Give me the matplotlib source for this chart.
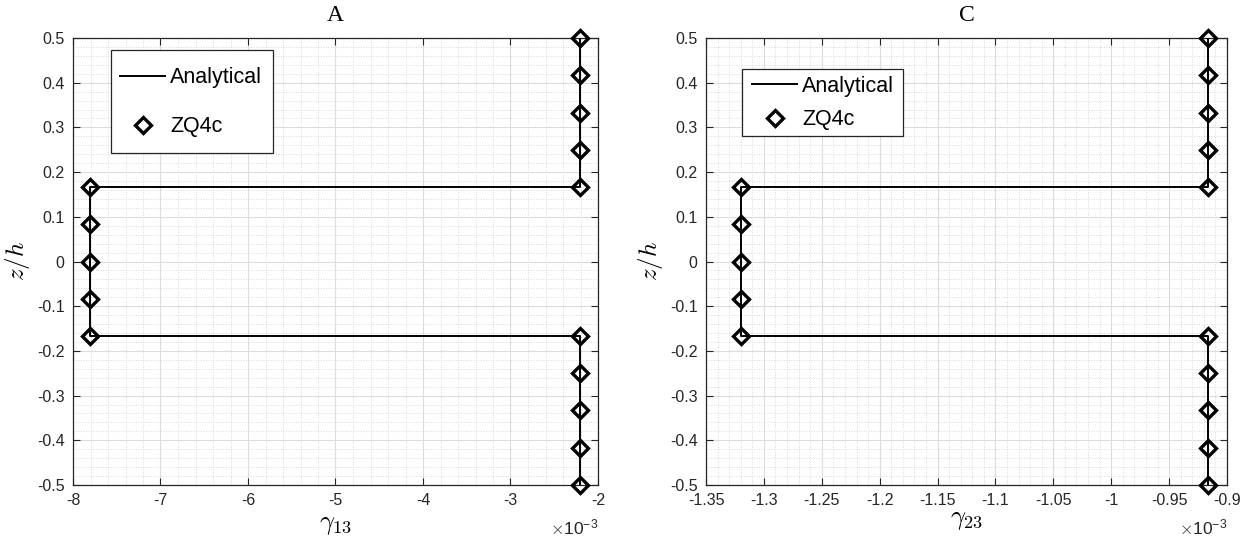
import matplotlib
matplotlib.use("Agg")
import matplotlib.pyplot as plt
from matplotlib.patches import Rectangle
from matplotlib.ticker import MultipleLocator, FuncFormatter, AutoMinorLocator

# ---------------- data ----------------
z_analytical = [0.5, 0.16667, 0.16667, -0.16667, -0.16667, -0.5]
gamma13_analytical = [-2.21e-3, -2.21e-3, -7.81e-3, -7.81e-3, -2.21e-3, -2.21e-3]
gamma23_analytical = [-0.9164e-3, -0.9164e-3, -1.3198e-3, -1.3198e-3, -0.9164e-3, -0.9164e-3]

z_zq4c = [0.5, 0.41667, 0.33333, 0.25, 0.16667,
          0.16667, 0.08333, 0.0, -0.08333, -0.16667,
          -0.16667, -0.25, -0.33333, -0.41667, -0.5]
gamma13_zq4c = [-2.21e-3, -2.21e-3, -2.21e-3, -2.21e-3, -2.21e-3,
                -7.81e-3, -7.81e-3, -7.81e-3, -7.81e-3, -7.81e-3,
                -2.21e-3, -2.21e-3, -2.21e-3, -2.21e-3, -2.21e-3]
gamma23_zq4c = [-0.9164e-3, -0.9164e-3, -0.9164e-3, -0.9164e-3, -0.9164e-3,
                -1.3198e-3, -1.3198e-3, -1.3198e-3, -1.3198e-3, -1.3198e-3,
                -0.9164e-3, -0.9164e-3, -0.9164e-3, -0.9164e-3, -0.9164e-3]

titles = ["A", "C"]
xlabels = [r"$\gamma_{13}$", r"$\gamma_{23}$"]
ylabel = r"$z/h$"
legend_labels = ["Analytical", "ZQ4c"]
xlims = [(-8e-3, -2e-3), (-1.35e-3, -0.9e-3)]
xmajor = [1e-3, 0.05e-3]
yticks = [-0.5, -0.4, -0.3, -0.2, -0.1, 0, 0.1, 0.2, 0.3, 0.4, 0.5]

# ---------------- style ----------------
plt.rcParams['font.family'] = ['Liberation Sans', 'DejaVu Sans']
plt.rcParams['mathtext.fontset'] = 'cm'
plt.rcParams['axes.unicode_minus'] = False

W, H = 1251, 544
fig = plt.figure(figsize=(W / 100, H / 100), dpi=100)

axes_px = [(73, 598), (706, 1227)]
top_px, bot_px = 38, 485

tickcol = '#262626'
LEG_FS = 15.5
# legend layout in pixels: frame (x0, y0, x1, y1), handle start x, first-row centre y, row spacing
legend_px = [
    dict(frame=(111, 50, 273, 153), hx=120, row1=78, labelspacing=1.3),
    dict(frame=(742, 69, 903, 136), hx=752, row1=86.5, labelspacing=0.56),
]
xlabel_y = [-0.062, -0.052]

series_a = [gamma13_analytical, gamma23_analytical]
series_z = [gamma13_zq4c, gamma23_zq4c]

for i in range(2):
    x0, x1 = axes_px[i]
    aw, ah = x1 - x0, bot_px - top_px
    ax = fig.add_axes([x0 / W, 1 - bot_px / H, aw / W, ah / H])

    def to_ax(px, py):
        return (px - x0) / aw, (bot_px - py) / ah

    ax.plot(series_a[i], z_analytical, color='black', lw=1.4, label=legend_labels[0], zorder=3)
    ax.plot(series_z[i], z_zq4c, linestyle='none', marker='D', markersize=8,
            markerfacecolor='none', markeredgecolor='black', markeredgewidth=2.4,
            label=legend_labels[1], zorder=4, clip_on=False)

    ax.set_xlim(*xlims[i])
    ax.set_ylim(-0.5, 0.5)
    ax.xaxis.set_major_locator(MultipleLocator(xmajor[i]))
    ax.xaxis.set_minor_locator(AutoMinorLocator(5))
    ax.set_yticks(yticks)
    ax.yaxis.set_minor_locator(AutoMinorLocator(5))
    ax.xaxis.set_major_formatter(FuncFormatter(lambda v, p: '%g' % round(v * 1e3, 6)))
    ax.yaxis.set_major_formatter(FuncFormatter(lambda v, p: '%g' % round(v, 6)))

    ax.grid(True, which='major', color='#dcdcdc', lw=0.8, zorder=0)
    ax.grid(True, which='minor', color='#cccccc', lw=0.6, linestyle=(0, (1, 2)), zorder=0)
    ax.set_axisbelow(True)
    ax.tick_params(which='major', direction='in', length=5, width=0.8, colors=tickcol,
                   labelsize=11.5, top=True, right=True, pad=6)
    ax.tick_params(which='minor', length=0, top=True, right=True)
    ax.tick_params(axis='x', labeltop=False)
    ax.tick_params(axis='y', labelright=False)
    for s in ax.spines.values():
        s.set_color(tickcol)
        s.set_linewidth(0.9)

    ax.set_title(titles[i], fontfamily='Liberation Serif', fontsize=17, pad=12, color='black')
    ax.set_xlabel(xlabels[i], fontsize=19)
    ax.xaxis.set_label_coords(0.5, xlabel_y[i])
    ax.set_ylabel(ylabel, fontsize=18)
    ax.yaxis.set_label_coords(-0.078 if i == 0 else -0.079, 0.5)

    ax.text(1.0, -0.096, r"$\times\mathregular{10^{-3}}$", transform=ax.transAxes,
            ha='right', va='center', fontsize=12.5, color=tickcol)

    # legend frame
    cfg = legend_px[i]
    fx0, fy0, fx1, fy1 = cfg['frame']
    ax_fx0, ax_fy1 = to_ax(fx0, fy1)
    ax_fx1, ax_fy0 = to_ax(fx1, fy0)
    ax.add_patch(Rectangle((ax_fx0, ax_fy1), ax_fx1 - ax_fx0, ax_fy0 - ax_fy1,
                           transform=ax.transAxes, facecolor='white', edgecolor='#262626',
                           lw=0.9, zorder=6, clip_on=False))
    row_h = 21.0
    anchor = to_ax(cfg['hx'], cfg['row1'] - row_h / 2)
    leg = ax.legend(loc='upper left', bbox_to_anchor=anchor, fontsize=LEG_FS,
                    frameon=False, handlelength=2.1, handletextpad=0.23,
                    labelspacing=cfg['labelspacing'], borderpad=0.0, borderaxespad=0.0)
    leg.set_zorder(7)

fig.savefig("out.png", dpi=100)
